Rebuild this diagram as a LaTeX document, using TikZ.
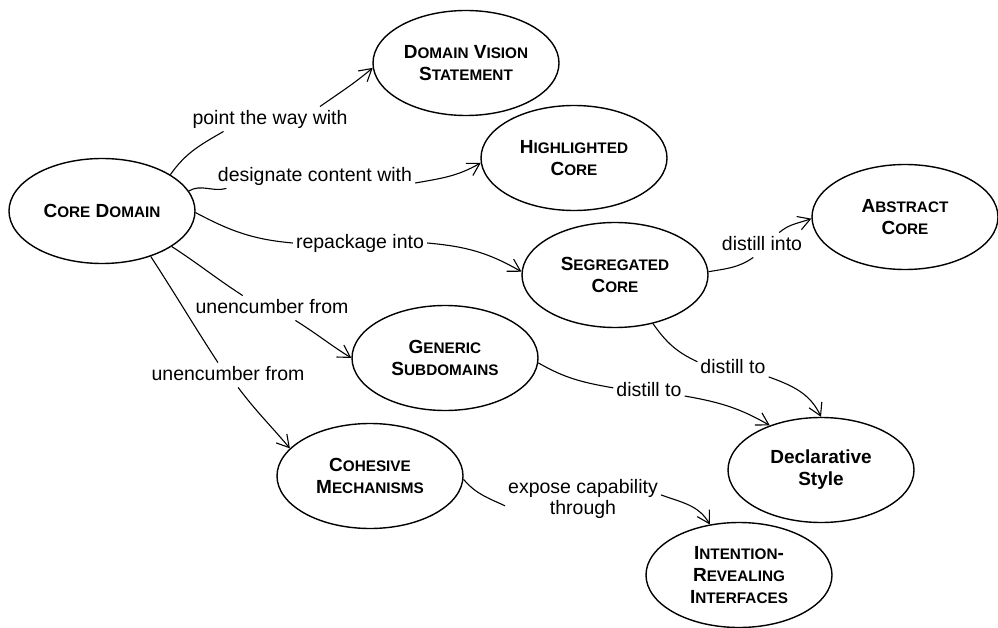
\documentclass[tikz,border=0pt]{standalone}
\usepackage{fontspec}
\setmainfont{Liberation Sans}
\usetikzlibrary{shapes.geometric,arrows.meta}
\newcommand\smc[1]{{\fontsize{15.3}{22}\selectfont #1}}
\begin{document}
\begin{tikzpicture}[x=1pt,y=-1pt,
  conc/.style={ellipse,draw,line width=1.4pt,minimum width=186pt,minimum height=105pt,inner sep=0pt,align=center,font=\bfseries\fontsize{19}{22}\selectfont},
  lbltext/.style={fill=white,inner sep=3pt,font=\fontsize{19.5}{21}\selectfont,align=center},
  lbl/.style={lbltext,text height=14.5pt,text depth=4pt},
  edge/.style={line width=1.1pt},
  arr/.style={edge,-{Straight Barb[length=12pt,width=14pt]}}]
\useasboundingbox (0,0) rectangle (998,628);

% concepts
\node[conc] (core) at (102,211) {C\smc{ORE} D\smc{OMAIN}};
\node[conc] (dvs) at (466,63) {D\smc{OMAIN} V\smc{ISION}\\S\smc{TATEMENT}};
\node[conc] (hc) at (574,158) {H\smc{IGHLIGHTED}\\C\smc{ORE}};
\node[conc] (abs) at (905,217) {A\smc{BSTRACT}\\C\smc{ORE}};
\node[conc] (seg) at (615,275) {S\smc{EGREGATED}\\C\smc{ORE}};
\node[conc] (gen) at (445,358) {G\smc{ENERIC}\\S\smc{UBDOMAINS}};
\node[conc] (coh) at (370,476) {C\smc{OHESIVE}\\M\smc{ECHANISMS}};
\node[conc] (decl) at (821,470) {Declarative\\Style};
\node[conc] (int) at (739,575) {I\smc{NTENTION}-\\R\smc{EVEALING}\\I\smc{NTERFACES}};

% labels
\node[lbl] (l1) at (270,119) {point the way with};
\node[lbl] (l2) at (315,176) {designate content with};
\node[lbl] (l3) at (360,243) {repackage into};
\node[lbl] (l4) at (762,245) {distill into};
\node[lbl] (l5) at (272,308) {unencumber from};
\node[lbl] (l6) at (228,375) {unencumber from};
\node[lbl] (l7) at (649,391) {distill to};
\node[lbl] (l8) at (733,368) {distill to};
\node[lbltext] (l9) at (583,499) {expose capability\\through};

% connectors
\draw[edge] (core.28) to[out=55,in=-150] (l1.195);
\draw[arr] (l1.14) to[out=35,in=-140] (dvs.183);

\draw[edge] (core.13) to[out=30,in=195] (l2.188);
\draw[arr] (l2.-4) to[out=10,in=-150] (hc.183);

\draw[edge] (core.-1) to[out=-28,in=175] (l3.west);
\draw[arr] (l3.east) to[out=-5,in=150] (seg.178);

\draw[edge] (seg.2) to[out=10,in=215] (l4.235);
\draw[arr] (l4.36) to[out=40,in=200] (abs.181);

\draw[edge] (core.-27) to[out=-33,in=147] (l5.157);
\draw[arr] (l5.-28) to[out=-32,in=148] (gen.180);

\draw[edge] (core.-43) to[out=-57,in=123] (l6.129);
\draw[arr] (l6.-51) to[out=-53,in=130] (coh.161);

\draw[edge] (gen.-3) to[out=-30,in=170] (l7.175);
\draw[arr] (l7.-8) to[out=-10,in=150] (decl.139);

\draw[edge] (seg.-52) to[out=-55,in=155] (l8.170);
\draw[arr] (l8.-14) to[out=-20,in=115] (decl.90);

\draw[edge] (coh.-2) to[out=-50,in=155] (l9.185);
\draw[arr] (l9.3) to[out=-20,in=120] (int.120);
\end{tikzpicture}
\end{document}
